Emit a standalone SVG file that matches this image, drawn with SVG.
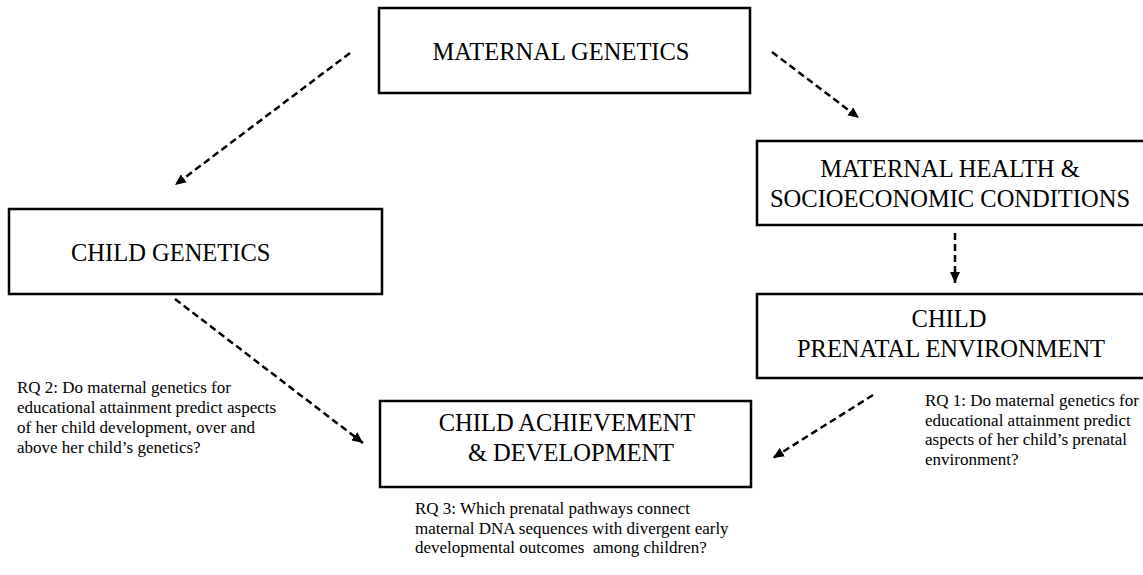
<svg xmlns="http://www.w3.org/2000/svg" width="1143" height="575" viewBox="0 0 1143 575">
<style>
.box{fill:#fff;stroke:#000;stroke-width:2.5}
.lbl{font-family:"Liberation Serif","Times New Roman",serif;font-size:24.5px;fill:#000}
.rq{font-family:"Liberation Serif","Times New Roman",serif;font-size:17px;fill:#000;white-space:pre}
.arr{fill:none;stroke:#000;stroke-width:2.5;stroke-dasharray:7 4;marker-end:url(#ah)}
</style>
<defs>
<marker id="ah" markerUnits="userSpaceOnUse" markerWidth="12" markerHeight="10" refX="11" refY="5" orient="auto">
<path d="M0,0 L11,5 L0,10 Z" fill="#000"/>
</marker>
</defs>
<rect width="1143" height="575" fill="#fff"/>
<g id="connectors">
<line class="arr" x1="350" y1="53" x2="175" y2="185"/>
<line class="arr" x1="772" y1="52" x2="859" y2="118"/>
<line class="arr" x1="955" y1="233" x2="955" y2="283"/>
<line class="arr" x1="175" y1="299" x2="363" y2="443"/>
<line class="arr" x1="873" y1="395" x2="773" y2="458"/>
</g>
<g id="maternal-genetics">
<rect class="box" x="379" y="8" width="371" height="85"/>
<text class="lbl" x="561" y="59.5" text-anchor="middle">MATERNAL GENETICS</text>
</g>
<g id="child-genetics">
<rect class="box" x="9" y="209" width="373" height="85"/>
<text class="lbl" x="71" y="261">CHILD GENETICS</text>
</g>
<g id="maternal-health">
<rect class="box" x="757" y="141" width="390" height="84"/>
<text class="lbl" x="950" y="177" text-anchor="middle">MATERNAL HEALTH &amp;</text>
<text class="lbl" x="950" y="207" text-anchor="middle">SOCIOECONOMIC CONDITIONS</text>
</g>
<g id="child-prenatal">
<rect class="box" x="757" y="294" width="390" height="84"/>
<text class="lbl" x="949" y="327" text-anchor="middle">CHILD</text>
<text class="lbl" x="951" y="357" text-anchor="middle">PRENATAL ENVIRONMENT</text>
</g>
<g id="child-achievement">
<rect class="box" x="380" y="401" width="371" height="86"/>
<text class="lbl" x="567" y="431" text-anchor="middle">CHILD ACHIEVEMENT</text>
<text class="lbl" x="571" y="461" text-anchor="middle">&amp; DEVELOPMENT</text>
</g>
<g id="rq2">
<text class="rq" x="17" y="393">RQ 2: Do maternal genetics for</text>
<text class="rq" x="17" y="413">educational attainment predict aspects</text>
<text class="rq" x="17" y="433">of her child development, over and</text>
<text class="rq" x="17" y="452.5">above her child’s genetics?</text>
</g>
<g id="rq1">
<text class="rq" x="925" y="406">RQ 1: Do maternal genetics for</text>
<text class="rq" x="925" y="426">educational attainment predict</text>
<text class="rq" x="925" y="445">aspects of her child’s prenatal</text>
<text class="rq" x="925" y="465">environment?</text>
</g>
<g id="rq3">
<text class="rq" x="415" y="514">RQ 3: Which prenatal pathways connect</text>
<text class="rq" x="415" y="534">maternal DNA sequences with divergent early</text>
<text class="rq" x="415" y="553">developmental outcomes  among children?</text>
</g>
</svg>
